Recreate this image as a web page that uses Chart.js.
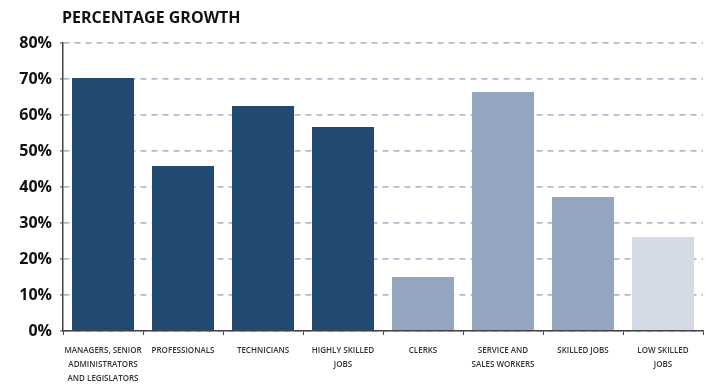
<!DOCTYPE html>
<html>
<head>
<meta charset="utf-8">
<script src="https://cdn.jsdelivr.net/npm/chart.js@4/dist/chart.umd.min.js"></script>
<style>
  html, body { margin: 0; padding: 0; background: #fff; }
  #wrap { width: 713px; height: 387px; position: relative; }
</style>
</head>
<body>
<div id="wrap"><canvas id="chart"></canvas></div>
<script>
// chart data
const title = 'PERCENTAGE GROWTH';
const categories = [
  ['MANAGERS, SENIOR', 'ADMINISTRATORS', 'AND LEGISLATORS'],
  'PROFESSIONALS',
  'TECHNICIANS',
  ['HIGHLY SKILLED', 'JOBS'],
  'CLERKS',
  ['SERVICE AND', 'SALES WORKERS'],
  'SKILLED JOBS',
  ['LOW SKILLED', 'JOBS']
];
const growth = [70.3, 45.8, 62.5, 56.7, 15.0, 66.4, 37.2, 26.1];
const barColors = ['#224a70', '#224a70', '#224a70', '#224a70', '#94a6bf', '#94a6bf', '#94a6bf', '#d4dbe6'];

// title drawn at the left edge of the plot area
const titlePlugin = {
  id: 'leftTitle',
  afterDraw(chart) {
    const ctx = chart.ctx;
    ctx.save();
    ctx.font = 'bold 16px "Open Sans"';
    ctx.fillStyle = '#111';
    ctx.textBaseline = 'middle';
    ctx.textAlign = 'left';
    ctx.fillText(title, chart.chartArea.left - 1, 18);
    ctx.restore();
  }
};

const ctx = document.getElementById('chart').getContext('2d');
const chart = new Chart(ctx, {
  type: 'bar',
  data: {
    labels: categories,
    datasets: [{
      data: growth,
      backgroundColor: barColors,
      borderWidth: 0,
      categoryPercentage: 1,
      barPercentage: 0.775
    }]
  },
  options: {
    responsive: true,
    maintainAspectRatio: false,
    animation: false,
    layout: { padding: { top: 43, right: 10, left: 0, bottom: 0 } },
    plugins: {
      legend: { display: false },
      tooltip: { enabled: false },
      title: { display: false }
    },
    scales: {
      y: {
        min: 0,
        max: 80,
        afterFit(scale) { scale.width = 63; },
        ticks: {
          stepSize: 10,
          padding: 8,
          color: '#111',
          font: { family: '"Open Sans"', size: 16, weight: 'bold' },
          callback: v => v + '%'
        },
        grid: {
          color: '#b0bcd0',
          lineWidth: 1.8,
          tickLength: 3,
          tickColor: '#444',
          tickWidth: 1,
          tickBorderDash: []
        },
        border: { color: '#444', width: 1.5, dash: [6, 5] }
      },
      x: {
        afterFit(scale) { scale.height = 56; },
        ticks: {
          padding: 9,
          color: '#333',
          maxRotation: 0,
          autoSkip: false,
          font: { family: '"Open Sans"', size: 8, weight: '600', lineHeight: 1.75 }
        },
        grid: {
          offset: true,
          drawOnChartArea: false,
          tickLength: 4,
          tickColor: '#444',
          tickWidth: 1
        },
        border: { color: '#444', width: 1.5 }
      }
    }
  },
  plugins: [titlePlugin]
});
</script>
</body>
</html>
